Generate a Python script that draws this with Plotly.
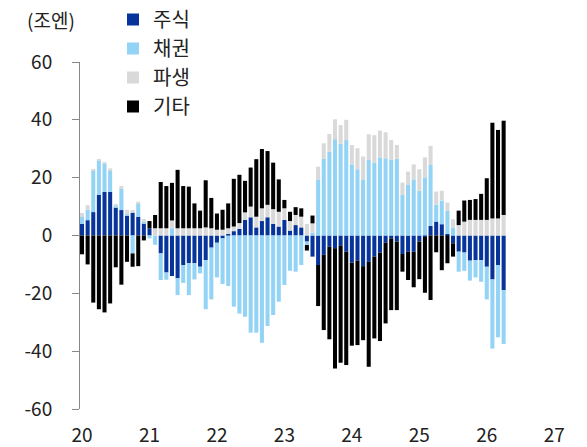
import plotly.graph_objects as go

# monthly, Jan 2020 .. Apr 2026
months = [f"{y}-{m:02d}" for y in range(2020, 2027) for m in range(1, 13)][:76]

stocks = [4.0, 5.3, 8.1, 14.0, 15.1, 15.1, 9.8, 8.8, 6.8, 7.9, 6.5, 4.2,
          2.5, 0.0, -6.2, -12.8, -14.0, -14.8, -10.2, -9.6, -9.6, -10.8, -8.5, -4.2,
          -2.5, -1.0, 0.5, 1.5, 2.3, 5.4, 6.3, 2.8, 5.0, 6.3, 4.0, 3.1,
          5.4, 1.7, 3.6, 2.8, -2.1, -7.3, -10.2, -6.7, -3.9, -4.4, -3.6, -5.6,
          -9.4, -8.7, -10.6, -9.1, -7.3, -5.9, -2.5, -1.0, -2.1, -6.4, -5.6, -5.6,
          -2.1, -0.5, 3.3, 4.8, 3.9, 0.5, -2.7, -5.6, -5.9, -8.7, -8.5, -8.5,
          -10.8, -15.2, -10.2, -18.9]
bonds = [2.4, 3.6, 14.5, 12.0, 9.7, 7.2, 0.3, 7.3, 0.5, -6.2, 4.6, 0.6,
         -1.0, -3.2, -9.2, -2.5, 2.5, -5.8, -6.2, -11.0, -5.6, -2.3, -17.0, -17.9,
         -12.0, -15.8, -17.5, -24.6, -27.0, -28.1, -33.6, -33.6, -37.1, -31.3, -27.5, -22.9,
         -17.1, -12.2, -12.5, -10.2, -1.2, 1.0, 19.4, 26.5, 29.0, 33.3, 31.7, 33.0,
         24.6, 22.9, 19.2, 26.1, 25.2, 27.0, 26.7, 26.1, 26.5, 14.0, 17.5, 19.4,
         15.5, 20.1, 21.1, 5.8, 8.2, 8.0, 2.7, -6.9, -6.3, -6.9, -6.0, -7.5,
         -11.3, -23.9, -25.0, -18.6]
derivs = [1.4, 1.6, 0.3, 0.3, 0.3, 0.9, 0.8, 1.0, 1.6, 0.9, 0.6, 0.9,
          0.0, 2.5, 2.5, 2.5, 2.7, 2.5, 2.5, 2.5, 2.5, 2.5, 2.8, 2.5,
          2.0, 2.0, 2.0, 1.6, 2.0, 2.6, 3.7, 3.7, 4.4, 4.3, 5.1, 5.1,
          4.0, 3.3, 3.5, 3.7, 4.0, 3.2, 4.4, 5.4, 6.1, 6.9, 6.5, 7.0,
          6.7, 7.3, 8.1, 8.9, 9.5, 9.3, 9.0, 6.9, 4.8, 4.3, 4.6, 5.2,
          7.4, 6.9, 6.6, 4.6, 3.4, 2.9, 2.9, 3.6, 4.8, 5.4, 5.4, 5.4,
          5.4, 5.9, 5.9, 7.1]
others = [-6.5, -10.0, -23.2, -25.5, -26.6, -23.5, -11.0, -17.0, -9.1, -4.6, -10.6, -1.7,
          2.5, 4.6, 16.0, 14.6, 13.0, 20.2, 14.6, 14.4, 8.6, 6.1, 16.3, 10.5,
          5.6, 6.9, 8.6, 16.5, 16.7, 10.9, 13.5, 19.9, 20.5, 18.6, 16.1, 11.2,
          2.9, 3.2, 2.7, 2.9, -1.9, 2.7, -14.2, -26.0, -32.0, -41.6, -40.4, -39.2,
          -28.7, -29.2, -25.6, -36.3, -28.3, -30.6, -27.9, -24.8, -23.7, -6.1, -9.8, -12.3,
          -13.0, -19.3, -22.3, -5.8, -12.0, -9.6, -4.6, 5.0, 7.3, 6.9, 7.2, 9.0,
          14.4, 33.1, 30.6, 32.6]

series = [("주식", stocks, "#06349b"),
          ("채권", bonds, "#93d3f5"),
          ("파생", derivs, "#d9d9d9"),
          ("기타", others, "#000000")]

year_ticks = list(range(2020, 2028))
year_labels = [str(y)[2:] for y in year_ticks]
y_ticks = list(range(-60, 61, 20))
y_labels = [str(v) for v in y_ticks]

xs = [int(m[:4]) + (int(m[5:]) - 1) / 12 for m in months]

fig = go.Figure()
for name, vals, color in series:
    fig.add_trace(go.Bar(x=xs, y=vals, name=name, legendgroup=name,
                         marker=dict(color=color, line=dict(width=0))))

xrange = [2019.97, 2027.13]
FONT = "Noto Sans CJK KR"
fig.update_layout(
    width=587, height=447,
    margin=dict(l=80, r=24, t=62, b=38, autoexpand=False),
    paper_bgcolor="white", plot_bgcolor="white",
    barmode="relative", bargap=0.28,
    font=dict(family=FONT, size=19, color="#222222"),
    showlegend=True,
    legend=dict(xref="container", yref="container", x=113 / 587,
                y=1.0 + 4 / 447, xanchor="left", yanchor="top",
                traceorder="normal", font=dict(size=20, color="#222222"),
                tracegroupgap=1.5, bgcolor="rgba(0,0,0,0)"),
    xaxis=dict(range=xrange, tickvals=year_ticks, ticktext=year_labels,
               showline=False, ticks="", showgrid=False, zeroline=False,
               ticklabelstandoff=13, tickfont=dict(size=19)),
    xaxis2=dict(range=xrange, overlaying="x", anchor="free", position=0.5,
                tickvals=year_ticks, showticklabels=False, ticks="outside",
                ticklen=6, tickcolor="#666666", showline=True,
                linecolor="#222222", linewidth=1.5, showgrid=False,
                zeroline=False, side="bottom"),
    yaxis=dict(range=[-60, 60], tickvals=y_ticks, ticktext=y_labels,
               showline=True, linecolor="#888888", linewidth=1,
               ticks="outside", ticklen=7, tickcolor="#888888",
               showgrid=False, zeroline=False,
               ticklabelstandoff=16, tickfont=dict(size=19)),
    annotations=[dict(text="(조엔)", xref="paper", yref="paper",
                      x=-0.06, y=(409 - 19) / 347, xanchor="center",
                      yanchor="middle", showarrow=False,
                      font=dict(size=19, color="#222222"))],
)

fig.write_html("out.html",
               config={"displayModeBar": False},
               post_script="document.body.style.margin='0';"
                           "document.body.style.overflow='hidden';")
